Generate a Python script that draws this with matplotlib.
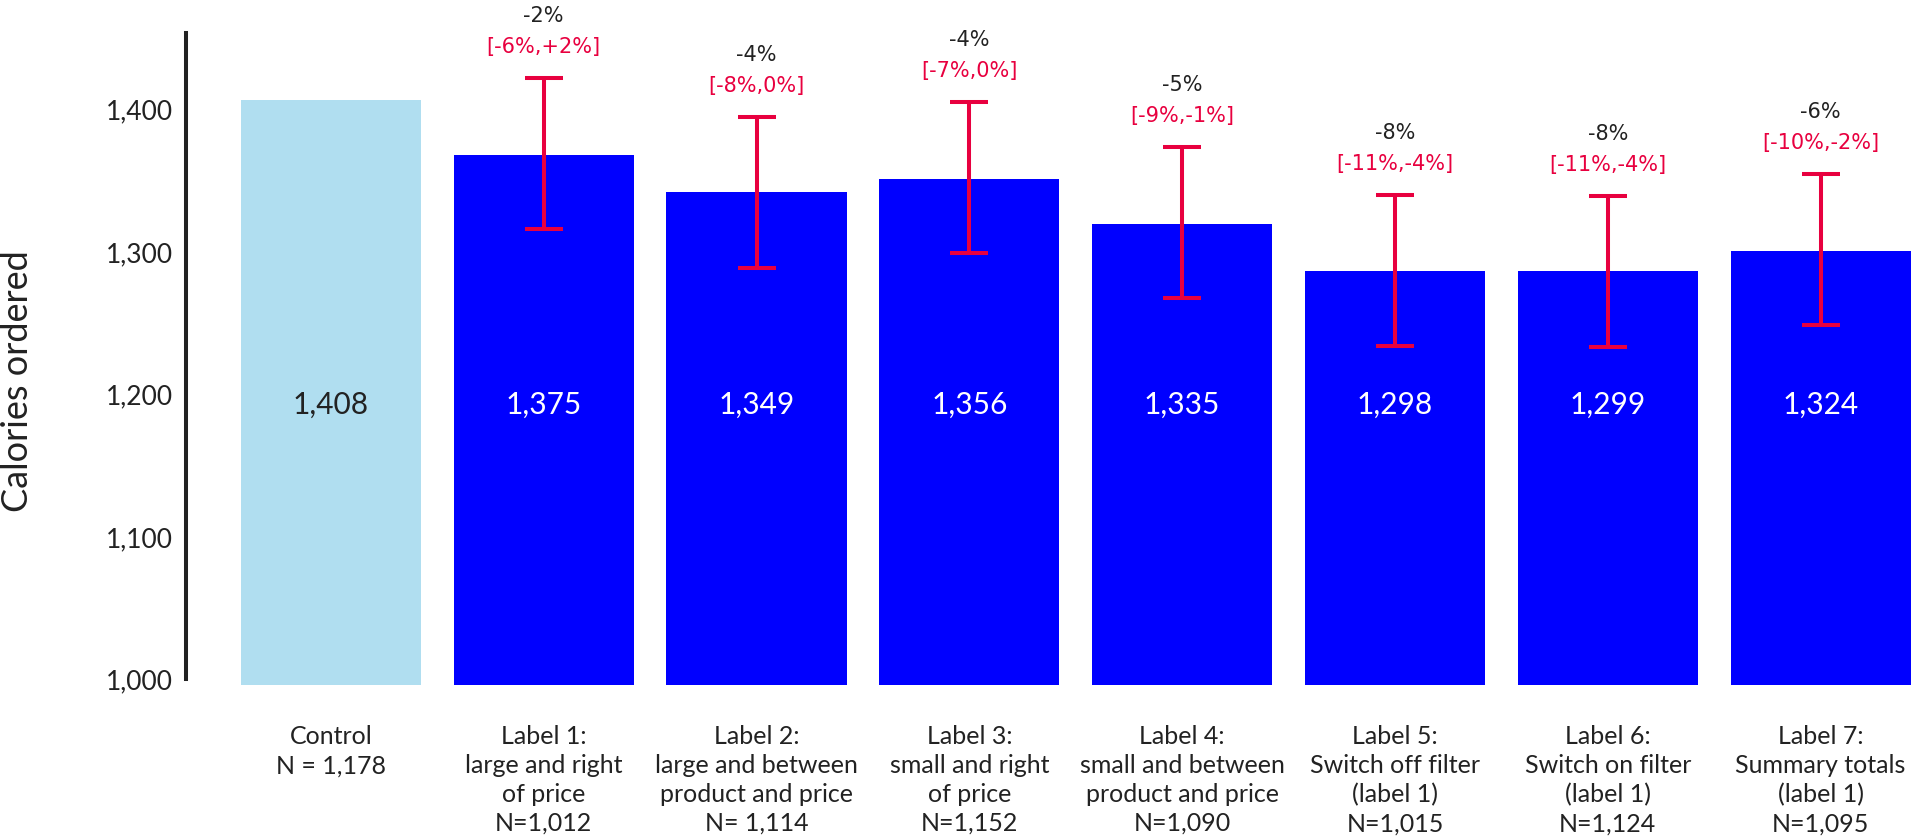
import numpy as np
import matplotlib
matplotlib.use("Agg")
import matplotlib.pyplot as plt

plt.rcParams['font.family'] = ['Lato', 'DejaVu Sans']

groups = [
    "Control\nN = 1,178",
    "Label 1:\nlarge and right\nof price\nN=1,012",
    "Label 2:\nlarge and between\nproduct and price\nN= 1,114",
    "Label 3:\nsmall and right\nof price\nN=1,152",
    "Label 4:\nsmall and between\nproduct and price\nN=1,090",
    "Label 5:\nSwitch off filter\n(label 1)\nN=1,015",
    "Label 6:\nSwitch on filter\n(label 1)\nN=1,124",
    "Label 7:\nSummary totals\n(label 1)\nN=1,095",
]
# bar heights as drawn, printed labels differ slightly
heights = [1407, 1368, 1342, 1351, 1320, 1287, 1287, 1301]
value_labels = ["1,408", "1,375", "1,349", "1,356", "1,335", "1,298", "1,299", "1,324"]
ci_low = [np.nan, 1316, 1289, 1299, 1268, 1234, 1233, 1249]
ci_high = [np.nan, 1422, 1395, 1405, 1374, 1340, 1339, 1355]
pct = ["", "-2%", "-4%", "-4%", "-5%", "-8%", "-8%", "-6%"]
ci_text = ["", "[-6%,+2%]", "[-8%,0%]", "[-7%,0%]", "[-9%,-1%]",
           "[-11%,-4%]", "[-11%,-4%]", "[-10%,-2%]"]

light = '#B0DEF0'
blue = '#0000FF'
red = '#E8003F'
dark = '#222222'

fig = plt.figure(figsize=(19.13, 8.36), dpi=100)
ax = fig.add_axes([0.0972, 0.1806, 0.9028, 0.7803])

x = np.arange(len(groups))
base = 996
cols = [light] + [blue] * (len(groups) - 1)
ax.bar(x, np.array(heights) - base, bottom=base, width=0.846, color=cols)

# error bars (control has none)
h = np.array(heights, dtype=float)
lo = np.array(ci_low)
hi = np.array(ci_high)
m = ~np.isnan(lo)
ax.errorbar(x[m], h[m], yerr=[h[m] - lo[m], hi[m] - h[m]], fmt='none',
            ecolor=red, elinewidth=2.9, capsize=14, capthick=2.9)

for i in range(len(groups)):
    ax.text(x[i], 1193, value_labels[i], ha='center', va='center',
            fontsize=21.5, color=dark if i == 0 else 'white')
    if m[i]:
        ax.annotate(ci_text[i], (x[i], hi[i]), xytext=(0, 31),
                    textcoords='offset pixels', ha='center', va='center',
                    fontsize=15, color=red, family=['DejaVu Sans'])
        ax.annotate(pct[i], (x[i], hi[i]), xytext=(0, 62),
                    textcoords='offset pixels', ha='center', va='center',
                    fontsize=15, color=dark, family=['DejaVu Sans'],
                    annotation_clip=False)

ax.set_ylim(base, 1454)
ax.set_xlim(-0.681, 7.434)
ax.set_yticks([1000, 1100, 1200, 1300, 1400])
ax.set_yticklabels(["1,000", "1,100", "1,200", "1,300", "1,400"])
ax.tick_params(axis='y', length=0, pad=9.5, labelsize=19, labelcolor=dark)
ax.set_xticks(x)
ax.set_xticklabels(groups, fontsize=18, linespacing=1.31, color=dark)
ax.tick_params(axis='x', length=0, pad=29)

for s in ['top', 'right', 'bottom']:
    ax.spines[s].set_visible(False)
ax.spines['left'].set_color(dark)
ax.spines['left'].set_linewidth(2.9)
ax.spines['left'].set_bounds(1000, 1454)

fig.text(18 / 1913, 1 - 381 / 836, "Calories ordered", rotation=90,
         ha='center', va='center', fontsize=26, color=dark)

fig.savefig("out.png", dpi=100)
